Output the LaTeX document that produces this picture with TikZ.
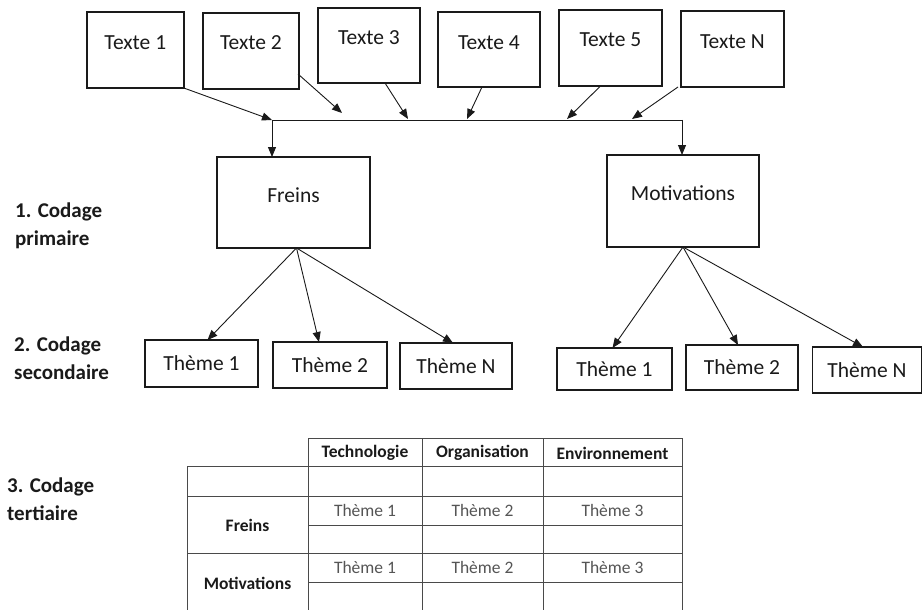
\documentclass[tikz,border=0pt]{standalone}
\usepackage{fontspec}
\setmainfont{Carlito}
\usetikzlibrary{arrows.meta,calc}
\definecolor{ink}{HTML}{1A1A1A}
\definecolor{grid}{HTML}{4A4A4A}
\definecolor{soft}{HTML}{555555}
\tikzset{
  box/.style={draw=ink, line width=1.8pt, inner sep=0pt, outer sep=0pt},
  boxtext/.style={font=\fontsize{21.5}{25}\selectfont, text=ink, inner sep=0pt},
  conn/.style={draw=ink, line width=0.9pt, -{Triangle[length=10pt,width=8pt]}},
  plain/.style={draw=ink, line width=0.9pt},
  lvl/.style={font=\fontsize{21}{28}\selectfont\bfseries, text=ink, align=left, anchor=west, inner sep=0pt},
  tline/.style={draw=grid, line width=0.9pt},
  thead/.style={font=\fontsize{17.5}{20}\selectfont\bfseries, text=ink, inner sep=0pt},
  tcell/.style={font=\fontsize{17.5}{20}\selectfont, text=soft, inner sep=0pt}
}
\begin{document}
\begin{tikzpicture}[x=1pt,y=-1pt]
\useasboundingbox (0,0) rectangle (922,610);
\fill[white] (0,0) rectangle (922,610);

% ---- text boxes ----
\node[box, minimum width=97pt, minimum height=76pt] (t1) at (135.3,50) {};
\node[box, minimum width=96pt, minimum height=76pt] (t2) at (251,51) {};
\node[box, minimum width=102pt, minimum height=75pt] (t3) at (369,45.5) {};
\node[box, minimum width=102pt, minimum height=75pt] (t4) at (489,49.5) {};
\node[box, minimum width=103pt, minimum height=76pt] (t5) at (610.5,48) {};
\node[box, minimum width=103pt, minimum height=76pt] (tN) at (732.5,49) {};
\node[boxtext] (t1l) at ([yshift=7pt]t1.center) {Texte 1};
\node[boxtext] (t2l) at ([yshift=8pt]t2.center) {Texte 2};
\node[boxtext] (t3l) at ([yshift=7.5pt]t3.center) {Texte 3};
\node[boxtext] (t4l) at ([yshift=6.5pt]t4.center) {Texte 4};
\node[boxtext] (t5l) at ([yshift=8pt]t5.center) {Texte 5};
\node[boxtext] (tNl) at ([yshift=7pt]tN.center) {Texte N};

% ---- primary coding ----
\node[box, minimum width=153pt, minimum height=91pt] (fr) at (293.5,202.5) {};
\node[box, minimum width=152pt, minimum height=92pt] (mo) at (683,201) {};
\node[boxtext] (frl) at ([yshift=7.5pt]fr.center) {Freins};
\node[boxtext] (mol) at ([yshift=8pt]mo.center) {Motivations};

% ---- collector line ----
\coordinate (c1) at (272,120);
\coordinate (c2) at (682,120);
\draw[plain] (c1) -- (c2);
\draw[conn] (c1) -- (c1 |- fr.north);
\draw[conn] (c2) -- (c2 |- mo.north);

\coordinate (e2) at (342,113);
\coordinate (e3) at (408,119);
\coordinate (e4) at (467,119);
\coordinate (e5) at (567,119);
\coordinate (e6) at (632,119);
\draw[conn] (t1.south east) -- (c1);
\draw[conn] ($(t2.south east)+(-1,-15)$) -- (e2);
\draw[conn] ($(t3.south)+(16,0)$) -- (e3);
\draw[conn] ($(t4.south)+(-7,0)$) -- (e4);
\draw[conn] ($(t5.south)+(-10,0)$) -- (e5);
\draw[conn] ($(tN.south west)+(-3,0)$) -- (e6);

% ---- secondary coding ----
\node[box, minimum width=113pt, minimum height=47pt] (l1) at (201.5,363.5) {};
\node[box, minimum width=114pt, minimum height=46pt] (l2) at (330,365) {};
\node[box, minimum width=112pt, minimum height=46pt] (lN) at (456,366) {};
\node[box, minimum width=115pt, minimum height=42pt] (r1) at (614.5,369) {};
\node[box, minimum width=112pt, minimum height=45pt] (r2) at (742,367.5) {};
\node[box, minimum width=109pt, minimum height=46pt] (rN) at (867,370) {};
\node[boxtext] (l1l) at (l1.center) {Thème 1};
\node[boxtext] (l2l) at (l2.center) {Thème 2};
\node[boxtext] (lNl) at (lN.center) {Thème N};
\node[boxtext] (r1l) at (r1.center) {Thème 1};
\node[boxtext] (r2l) at (r2.center) {Thème 2};
\node[boxtext] (rNl) at (rN.center) {Thème N};

\draw[conn] ([xshift=3pt]fr.south) -- ([xshift=6pt]l1.north);
\draw[conn] ([xshift=3pt]fr.south) -- ([xshift=-11pt]l2.north);
\draw[conn] ([xshift=3pt]fr.south) -- ([xshift=-3pt]lN.north);
\draw[conn] (mo.south) -- ([xshift=-2pt]r1.north);
\draw[conn] (mo.south) -- ([xshift=-4pt]r2.north);
\draw[conn] (mo.south) -- ([xshift=-4pt]rN.north);

% ---- level labels ----
\node[lvl] (lv1) at (15,226) {1. Codage\\primaire};
\node[lvl] (lv2) at (14,358.5) {2. Codage\\secondaire};
\node[lvl] (lv3) at (7,499) {3. Codage\\tertiaire};

% ---- tertiary table ----
\draw[tline] (308,438) -- (682,438);
\draw[tline] (187,466) -- (682,466);
\draw[tline] (187,496) -- (682,496);
\draw[tline] (308,525) -- (682,525);
\draw[tline] (187,553) -- (682,553);
\draw[tline] (308,582) -- (682,582);
\draw[tline] (187,466) -- (187,610);
\draw[tline] (308,438) -- (308,610);
\draw[tline] (422,438) -- (422,610);
\draw[tline] (543,438) -- (543,610);
\draw[tline] (682,438) -- (682,610);

\node[thead] (h1) at (365,453) {Technologie};
\node[thead] (h2) at (482.5,453) {Organisation};
\node[thead] (h3) at (612.5,453) {Environnement};
\node[thead] (rf) at (247.5,525) {Freins};
\node[thead] (rm) at (247.5,583) {Motivations};
\node[tcell] (a1) at (365,510) {Thème 1};
\node[tcell] (a2) at (482.5,510) {Thème 2};
\node[tcell] (a3) at (612.5,510) {Thème 3};
\node[tcell] (b1) at (365,567) {Thème 1};
\node[tcell] (b2) at (482.5,567) {Thème 2};
\node[tcell] (b3) at (612.5,567) {Thème 3};
\end{tikzpicture}
\end{document}
